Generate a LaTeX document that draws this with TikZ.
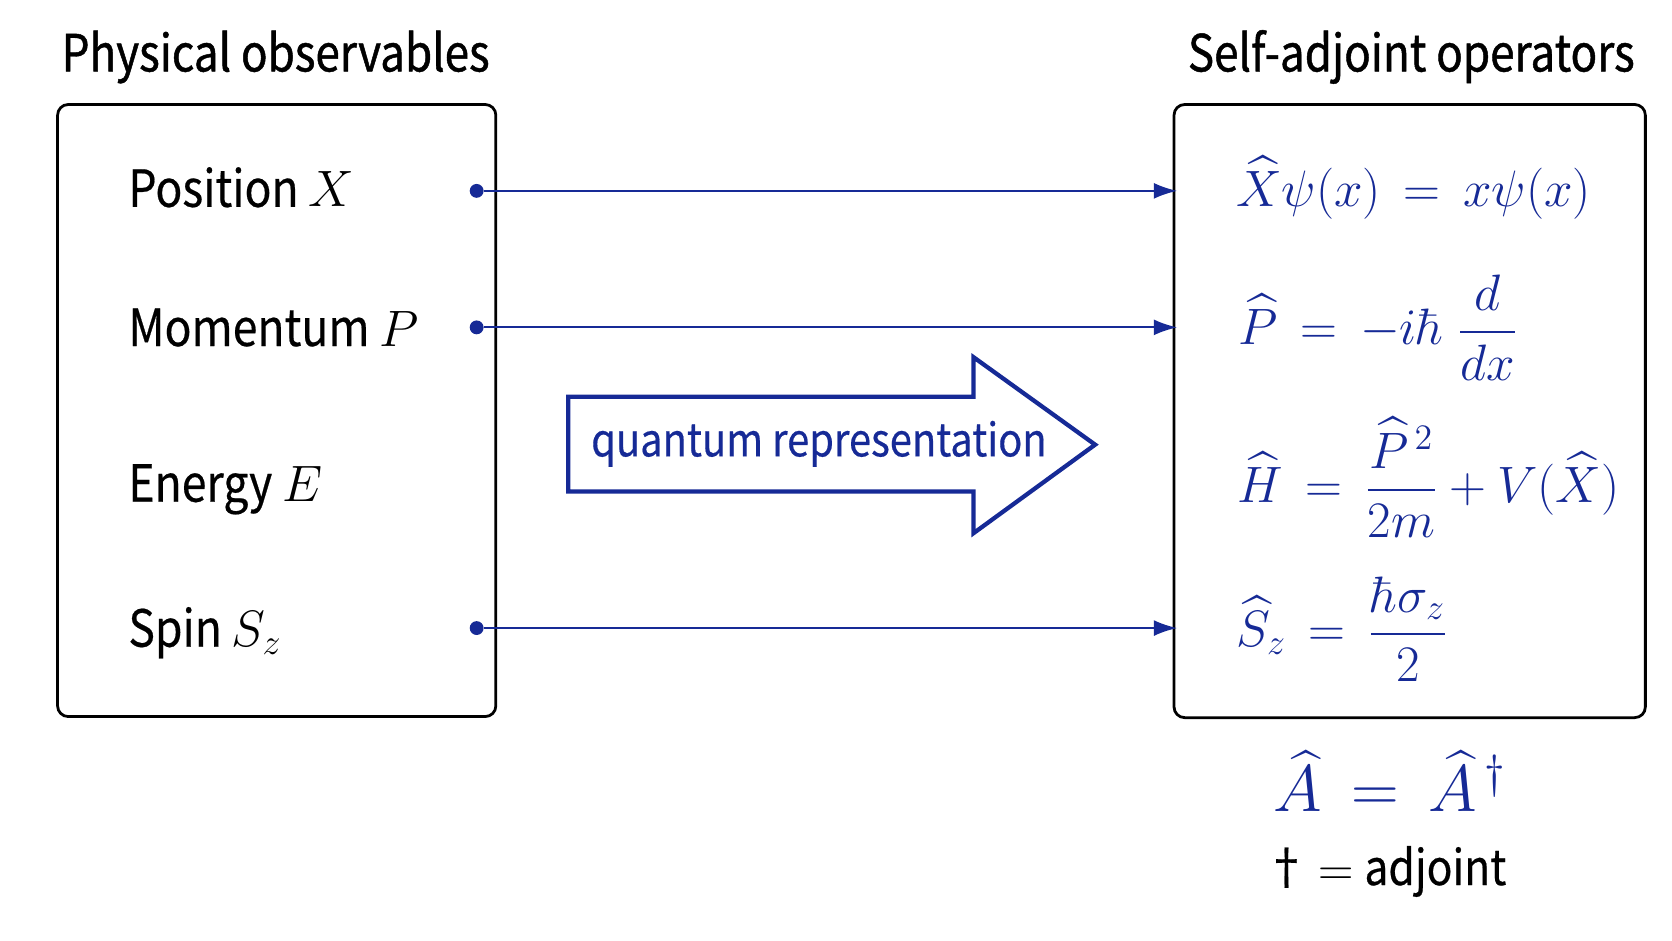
\RequirePackage{fix-cm}
\documentclass[tikz,border=0pt]{standalone}
\usepackage{amsmath}
\usepackage[no-math]{fontspec}
\newfontfamily\labfont[FakeStretch=0.87,FakeBold=0.4]{Noto Sans CJK SC}
\newfontfamily\ttlfont[FakeStretch=0.86,FakeBold=0.9]{Noto Sans CJK SC}
\usetikzlibrary{arrows.meta}
\definecolor{opblue}{RGB}{22,42,150}
\begin{document}
\begin{tikzpicture}[x=0.5pt,y=-0.5pt,
  frame/.style={draw=black, line width=1.3pt, rounded corners=5pt},
  lab/.style={anchor=base west, inner sep=0pt, font=\labfont\fontsize{24}{28}\selectfont},
  ttl/.style={anchor=base, inner sep=0pt, font=\ttlfont\fontsize{24}{28}\selectfont},
  eq/.style={anchor=base west, inner sep=0pt, text=opblue, font=\fontsize{24}{28}\selectfont},
  dotnode/.style={circle, fill=opblue, inner sep=0pt, minimum size=6.5pt},
  link/.style={draw=opblue, line width=1pt, -{Latex[length=11pt,width=7.5pt]}},
  bigarrow/.style={draw=opblue, line width=2pt, line join=miter}
]
\useasboundingbox (0,0) rectangle (1568,882);

% titles
\node[ttl] (tl) at (258.5,67) {Physical observables};
\node[ttl] (tr) at (1323.5,67) {Self-adjoint operators};

% boxes
\draw[frame] (54,98) rectangle (465,672);
\draw[frame] (1101,98) rectangle (1543,673);

% left labels
\node[lab] (lx) at (120,194) {Position $X$};
\node[lab] (lp) at (120,324.5) {Momentum $P$};
\node[lab] (le) at (120,470.5) {Energy $E$};
\node[lab] (ls) at (120,606.5) {Spin $S_z$};

% right equations
\node[eq] (ex) at (1159,194) {$\widehat X\psi(x) \,=\, x\psi(x)$};
\node[eq] (ep) at (1161,323.5) {$\widehat P \,=\, -i\hbar\;\dfrac{d}{dx}$};
\node[eq] (eh) at (1160,471.4) {$\widehat H \,=\, \dfrac{\widehat P^{\,2}}{2m} + V(\widehat X)$};
\node[eq] (es) at (1159,606.5) {$\widehat S_z \,=\, \dfrac{\hbar\sigma_z}{2}$};

% self-adjoint condition
\node[eq, font=\fontsize{31}{36}\selectfont] (ea) at (1193.6,761) {$\widehat A \,=\, \widehat A^{\,\dagger}$};
\node[lab, font=\labfont\fontsize{23}{28}\selectfont] (adj) at (1186,830) {†\hspace{5pt}$=$\hspace{5pt}adjoint};

% connectors
\node[dotnode] (d1) at (447,179) {};
\node[dotnode] (d2) at (447,307) {};
\node[dotnode] (d4) at (447,589) {};
\coordinate (t1) at (1104,179);
\coordinate (t2) at (1104,307);
\coordinate (t4) at (1104,589);
\draw[link] (d1) -- (t1);
\draw[link] (d2) -- (t2);
\draw[link] (d4) -- (t4);

% big arrow
\draw[bigarrow] (533,372) -- (913,372) -- (913,335) -- (1027,417) -- (913,500) -- (913,461) -- (533,461) -- cycle;
\node[anchor=base, inner sep=0pt, text=opblue, font=\labfont\fontsize{21.5}{26}\selectfont] (qr) at (768,428) {quantum representation};
\end{tikzpicture}
\end{document}
